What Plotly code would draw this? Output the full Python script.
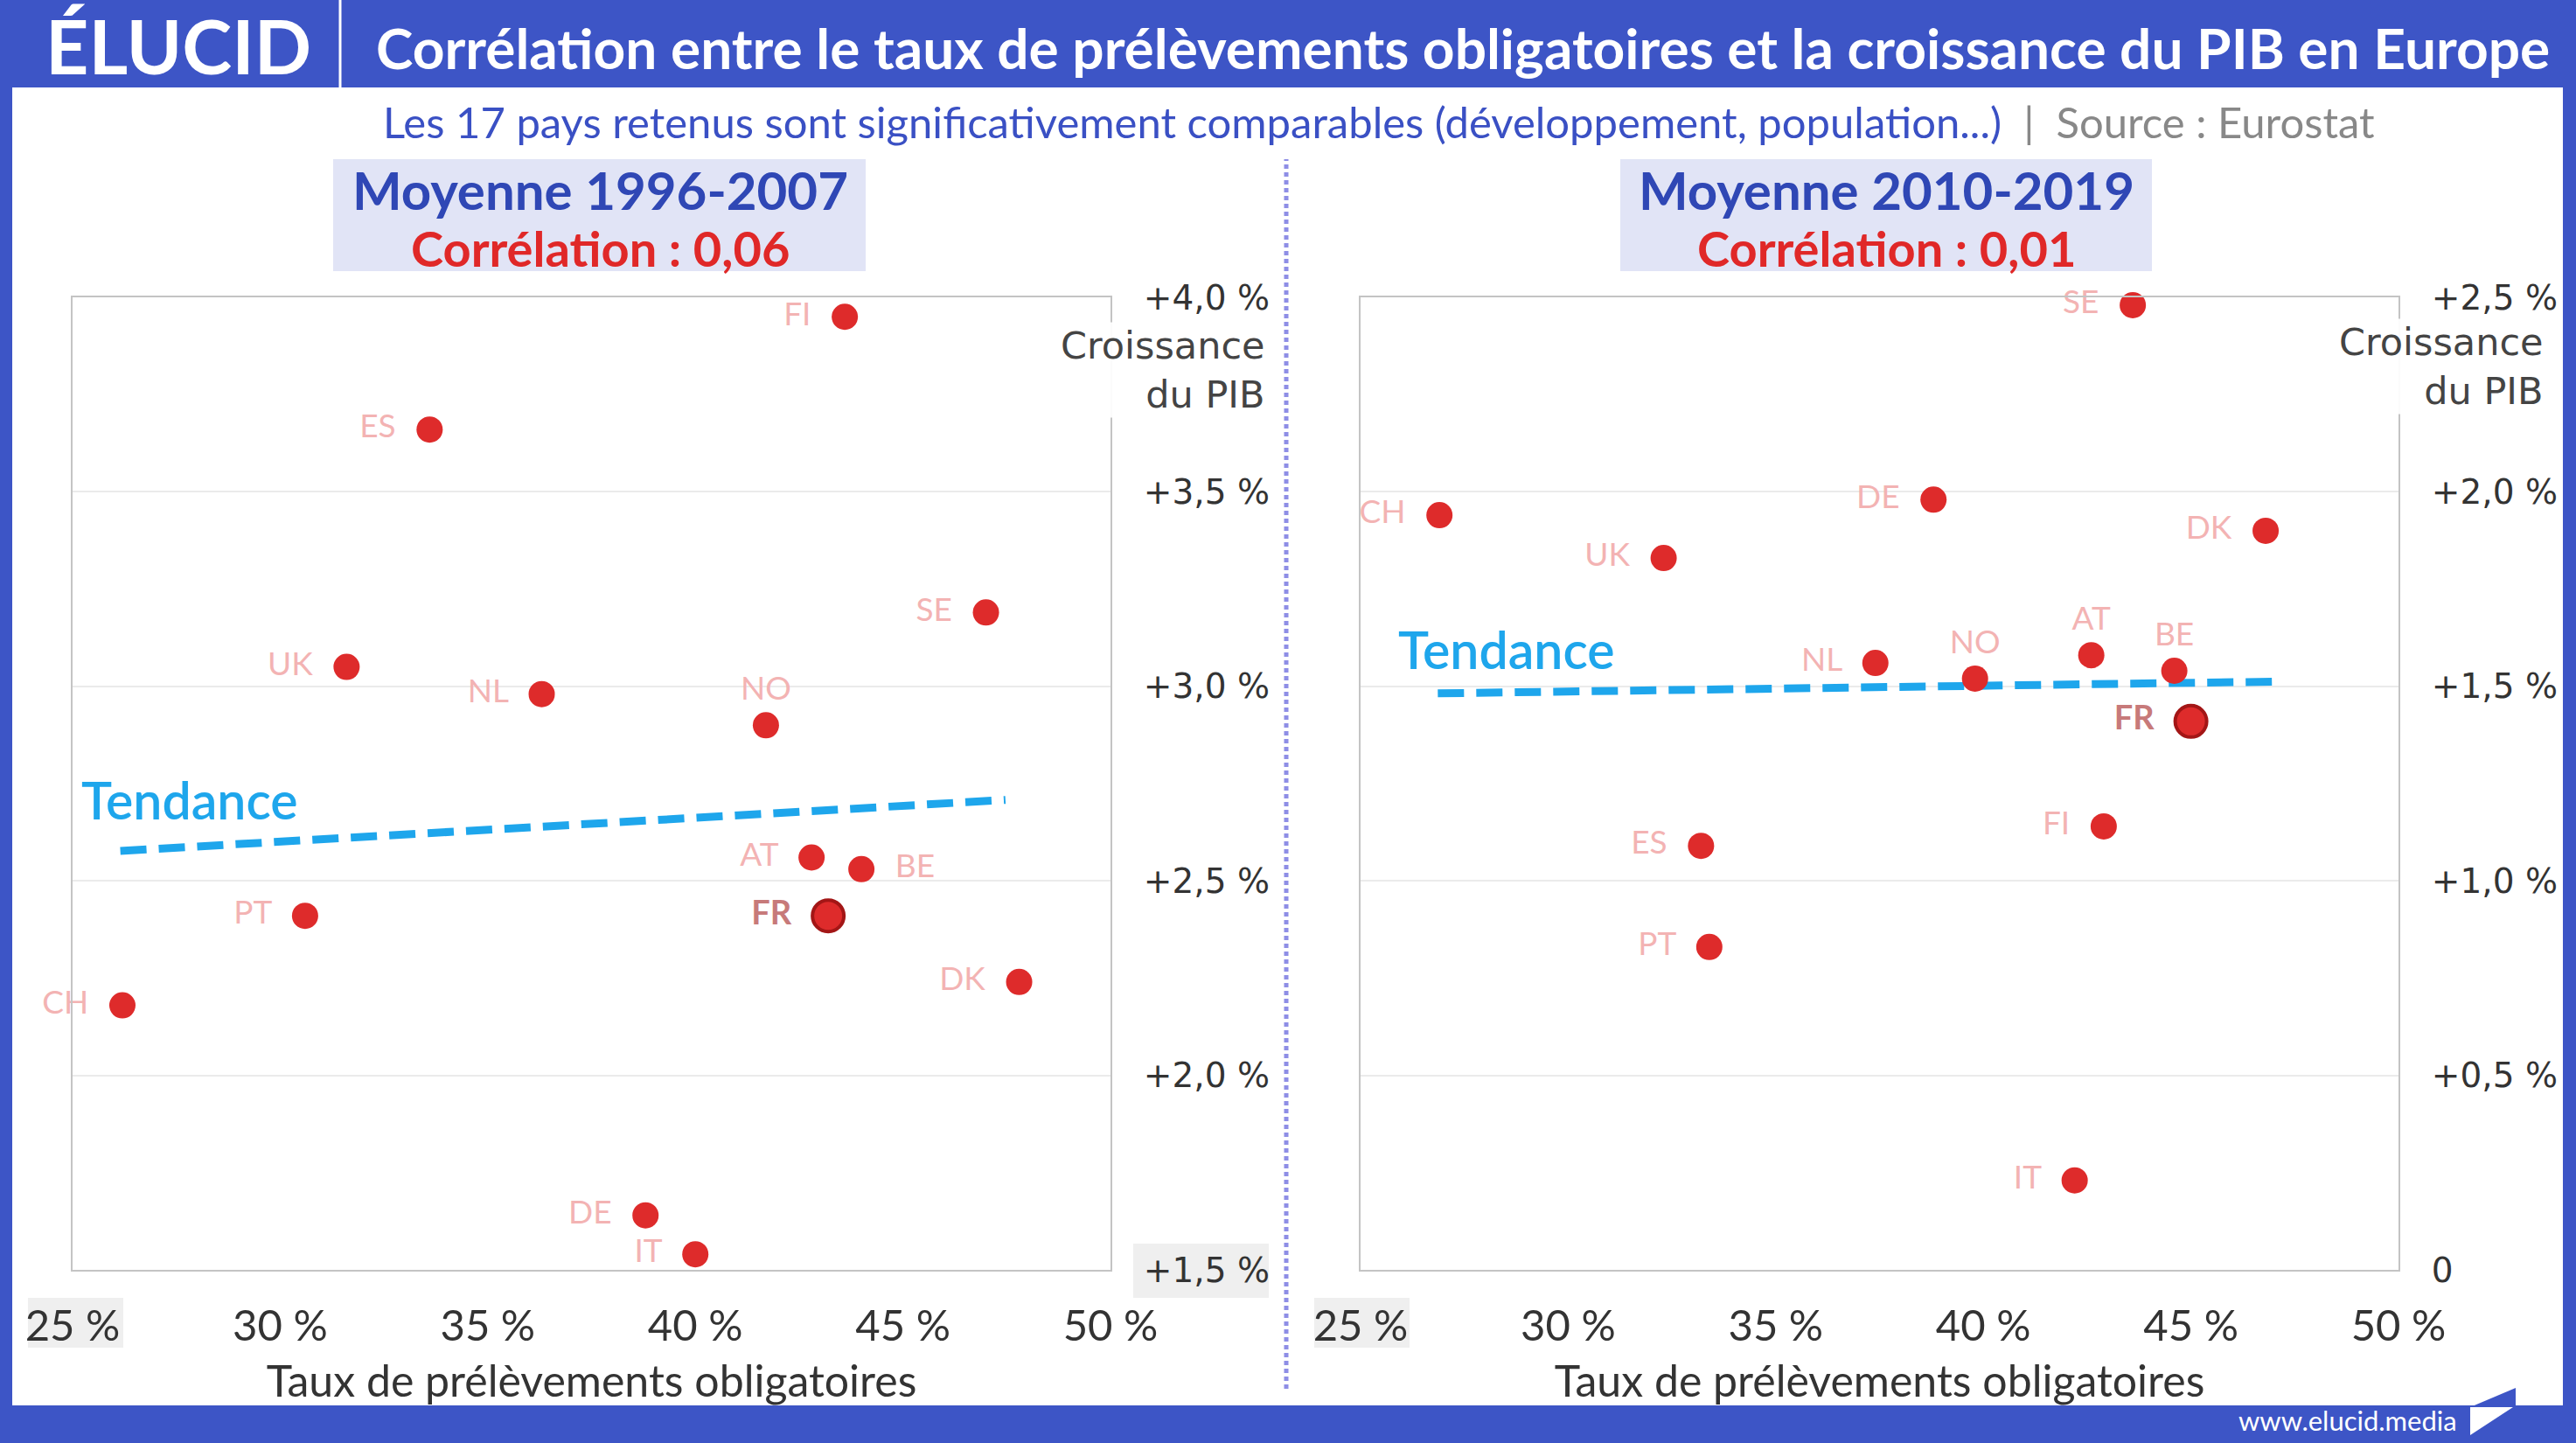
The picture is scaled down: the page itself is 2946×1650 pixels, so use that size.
import plotly.graph_objects as go

W, H = 2946, 1650

# ---------------- data ----------------
countries_a = ["FI", "ES", "SE", "UK", "NL", "NO", "AT", "BE", "PT", "DK", "CH", "DE", "IT"]
tax_a = [43.6, 33.6, 47.0, 31.6, 36.3, 41.7, 42.8, 44.0, 30.6, 47.8, 26.2, 38.8, 40.0]
gdp_a = [3.95, 3.66, 3.19, 3.05, 2.98, 2.90, 2.56, 2.53, 2.41, 2.24, 2.18, 1.64, 1.54]
pos_a = ["middle left", "middle left", "middle left", "middle left", "middle left", "top center",
         "middle left", "middle right", "middle left", "middle left", "middle left", "middle left", "middle left"]
fr_tax_a, fr_gdp_a = [43.2], [2.41]
trend_a_x = [26.15, 47.47]
trend_a_y = [2.577, 2.708]

countries_b = ["SE", "CH", "DE", "DK", "UK", "NL", "AT", "BE", "NO", "FI", "ES", "PT", "IT"]
tax_b = [43.6, 26.9, 38.8, 46.8, 32.3, 37.4, 42.6, 44.6, 39.8, 42.9, 33.2, 33.4, 42.2]
gdp_b = [2.48, 1.94, 1.98, 1.90, 1.83, 1.56, 1.58, 1.54, 1.52, 1.14, 1.09, 0.83, 0.23]
pos_b = ["middle left", "middle left", "middle left", "middle left", "middle left", "middle left",
         "top center", "top center", "top center", "middle left", "middle left", "middle left", "middle left"]
fr_tax_b, fr_gdp_b = [45.0], [1.41]
trend_b_x = [26.86, 46.95]
trend_b_y = [1.482, 1.512]

x_ticks = [25, 30, 35, 40, 45, 50]
x_ticktext = ["25 %", "30 %", "35 %", "40 %", "45 %", "50 %"]
y_ticks_a = [1.5, 2.0, 2.5, 3.0, 3.5, 4.0]
y_ticktext_a = ["+1,5 %", "+2,0 %", "+2,5 %", "+3,0 %", "+3,5 %", "+4,0 %"]
y_ticks_b = [0, 0.5, 1.0, 1.5, 2.0, 2.5]
y_ticktext_b = ["0", "+0,5 %", "+1,0 %", "+1,5 %", "+2,0 %", "+2,5 %"]

# ---------------- styles ----------------
BLUE = "#3d55c6"
RED = "#de2b2b"
LABEL = "#f3b3b3"
FRLAB = "#c77a7a"
TREND = "#1ea6ec"
FONT = "Lato"
TICKFONT = "DejaVu Sans"
NB = "\u00a0"


def px(x):
    return x / W


def py(y):
    return 1 - y / H


def pad_label(name, pos):
    if pos == "middle left":
        return name + NB * 2
    if pos == "middle right":
        return NB * 2 + name
    return name


fig = go.Figure()


def add_panel(xa, ya, names, xs, ys, pos, frx, fry, tx, ty):
    fig.add_trace(go.Scatter(
        x=tx, y=ty, mode="lines", xaxis=xa, yaxis=ya,
        line=dict(color=TREND, width=9, dash="30px,14px"),
        hoverinfo="skip", showlegend=False))
    fig.add_trace(go.Scatter(
        x=xs, y=ys, mode="markers+text",
        text=[pad_label(n, p) for n, p in zip(names, pos)], textposition=pos,
        xaxis=xa, yaxis=ya, cliponaxis=False,
        marker=dict(color=RED, size=30, line=dict(width=0)),
        textfont=dict(family=FONT, size=37, color=LABEL),
        showlegend=False))
    fig.add_trace(go.Scatter(
        x=frx, y=fry, mode="markers+text", text=["FR" + NB * 2], textposition="middle left",
        xaxis=xa, yaxis=ya, cliponaxis=False,
        marker=dict(color=RED, size=36, line=dict(width=4, color="#a31616")),
        textfont=dict(family=FONT, size=38, color=FRLAB, weight="bold"),
        showlegend=False))


add_panel("x", "y", countries_a, tax_a, gdp_a, pos_a, fr_tax_a, fr_gdp_a, trend_a_x, trend_a_y)
add_panel("x2", "y2", countries_b, tax_b, gdp_b, pos_b, fr_tax_b, fr_gdp_b, trend_b_x, trend_b_y)

common_x = dict(range=[25, 50], tickvals=x_ticks, ticktext=x_ticktext, showgrid=False,
                zeroline=False, showline=True, mirror=True, linecolor="#c4c4c4", linewidth=2,
                ticks="", ticklabelstandoff=20, automargin=False,
                tickfont=dict(family=FONT, size=49, color="#333333"),
                title=dict(text="Taux de prélèvements obligatoires",
                           font=dict(family=FONT, size=50, color="#333333"), standoff=20))
common_y = dict(side="right", showgrid=True, gridcolor="#ebebeb", gridwidth=2, zeroline=False,
                showline=True, mirror=True, linecolor="#c4c4c4", linewidth=2, ticks="",
                ticklabelstandoff=28, automargin=False,
                tickfont=dict(family=TICKFONT, size=39, color="#333333"))

fig.update_layout(
    width=W, height=H, margin=dict(l=0, r=0, t=0, b=0, autoexpand=False),
    paper_bgcolor=BLUE, plot_bgcolor="rgba(0,0,0,0)",
    xaxis=dict(domain=[px(83), px(1270)], anchor="y", **common_x),
    yaxis=dict(domain=[py(1452), py(340)], anchor="x", range=[1.5, 4.0],
               tickvals=y_ticks_a, ticktext=y_ticktext_a, **common_y),
    xaxis2=dict(domain=[px(1556), px(2743)], anchor="y2", **common_x),
    yaxis2=dict(domain=[py(1452), py(340)], anchor="x2", range=[0, 2.5],
                tickvals=y_ticks_b, ticktext=y_ticktext_b, **common_y),
)

shapes = [
    # white page
    dict(type="rect", xref="paper", yref="paper", x0=px(14), x1=px(2931), y0=py(1607), y1=py(100),
         fillcolor="white", line=dict(width=0), layer="below"),
    # header separator
    dict(type="line", xref="paper", yref="paper", x0=px(389), x1=px(389), y0=py(100), y1=py(0),
         line=dict(color="white", width=3)),
    # panel title boxes
    dict(type="rect", xref="paper", yref="paper", x0=px(381), x1=px(990), y0=py(310), y1=py(182),
         fillcolor="#e1e4f6", line=dict(width=0), layer="below"),
    dict(type="rect", xref="paper", yref="paper", x0=px(1853), x1=px(2461), y0=py(310), y1=py(182),
         fillcolor="#e1e4f6", line=dict(width=0), layer="below"),
    # divider
    dict(type="line", xref="paper", yref="paper", x0=px(1471), x1=px(1471), y0=py(1588), y1=py(182),
         line=dict(color="#8e8ee6", width=5, dash="5px,4px")),
    # faint grey label boxes
    dict(type="rect", xref="paper", yref="paper", x0=px(32), x1=px(141), y0=py(1541), y1=py(1484),
         fillcolor="#efefef", line=dict(width=0), layer="below"),
    dict(type="rect", xref="paper", yref="paper", x0=px(1503), x1=px(1612), y0=py(1541), y1=py(1484),
         fillcolor="#efefef", line=dict(width=0), layer="below"),
    dict(type="rect", xref="paper", yref="paper", x0=px(1296), x1=px(1451), y0=py(1484), y1=py(1422),
         fillcolor="#efefef", line=dict(width=0), layer="below"),
    # website logo mark
    dict(type="path", xref="paper", yref="paper",
         path=f"M {px(2825)},{py(1609)} L {px(2877)},{py(1587)} L {px(2877)},{py(1609)} Z",
         fillcolor=BLUE, line=dict(width=0)),
    dict(type="path", xref="paper", yref="paper",
         path=f"M {px(2825)},{py(1609)} L {px(2874)},{py(1609)} L {px(2825)},{py(1641)} Z",
         fillcolor="white", line=dict(width=0)),
]

ann = [
    dict(text="<b>ÉLUCID</b>", x=px(50), y=py(52), xanchor="left", yanchor="middle",
         font=dict(family=FONT, size=86, color="white")),
    dict(text="<b>Corrélation entre le taux de prélèvements obligatoires et la croissance du PIB en Europe</b>",
         x=px(428), y=py(55), xanchor="left", yanchor="middle",
         font=dict(family=FONT, size=64, color="white")),
    dict(text="<span style='color:#3a50c4'>Les 17 pays retenus sont significativement comparables "
              "(développement, population...)</span><span style='color:#888888'>  |  Source : Eurostat</span>",
         x=px(1577), y=py(139), xanchor="center", yanchor="middle",
         font=dict(family=FONT, size=49)),
    dict(text="<b>Moyenne 1996-2007</b>", x=px(686), y=py(217), xanchor="center", yanchor="middle",
         font=dict(family=FONT, size=60, color="#2f47b5")),
    dict(text="<b>Corrélation : 0,06</b>", x=px(686), y=py(283), xanchor="center", yanchor="middle",
         font=dict(family=FONT, size=56, color="#e02828")),
    dict(text="<b>Moyenne 2010-2019</b>", x=px(2157), y=py(217), xanchor="center", yanchor="middle",
         font=dict(family=FONT, size=60, color="#2f47b5")),
    dict(text="<b>Corrélation : 0,01</b>", x=px(2157), y=py(283), xanchor="center", yanchor="middle",
         font=dict(family=FONT, size=56, color="#e02828")),
    dict(text="Croissance<br>du PIB", x=px(1449), y=py(423), xanchor="right", yanchor="middle",
         align="right", bgcolor="rgba(255,255,255,0.92)",
         font=dict(family=TICKFONT, size=43, color="#444444")),
    dict(text="Croissance<br>du PIB", x=px(2911), y=py(419), xanchor="right", yanchor="middle",
         align="right", bgcolor="rgba(255,255,255,0.92)",
         font=dict(family=TICKFONT, size=43, color="#444444")),
    dict(text="Tendance", xref="x", yref="y", x=25.16, y=2.708, xanchor="left", yanchor="middle",
         font=dict(family=FONT, size=59, color=TREND, weight=600)),
    dict(text="Tendance", xref="x2", yref="y2", x=25.87, y=1.596, xanchor="left", yanchor="middle",
         font=dict(family=FONT, size=59, color=TREND, weight=600)),
    dict(text="www.elucid.media", x=px(2812), y=py(1624), xanchor="right", yanchor="middle",
         font=dict(family=FONT, size=31, color="white")),
]
for a in ann:
    a.setdefault("xref", "paper")
    a.setdefault("yref", "paper")
    a["showarrow"] = False

fig.update_layout(shapes=shapes, annotations=ann)
fig.write_html("out.html", config={"displayModeBar": False},
               post_script="document.body.style.margin='0';document.body.style.overflow='hidden';")
